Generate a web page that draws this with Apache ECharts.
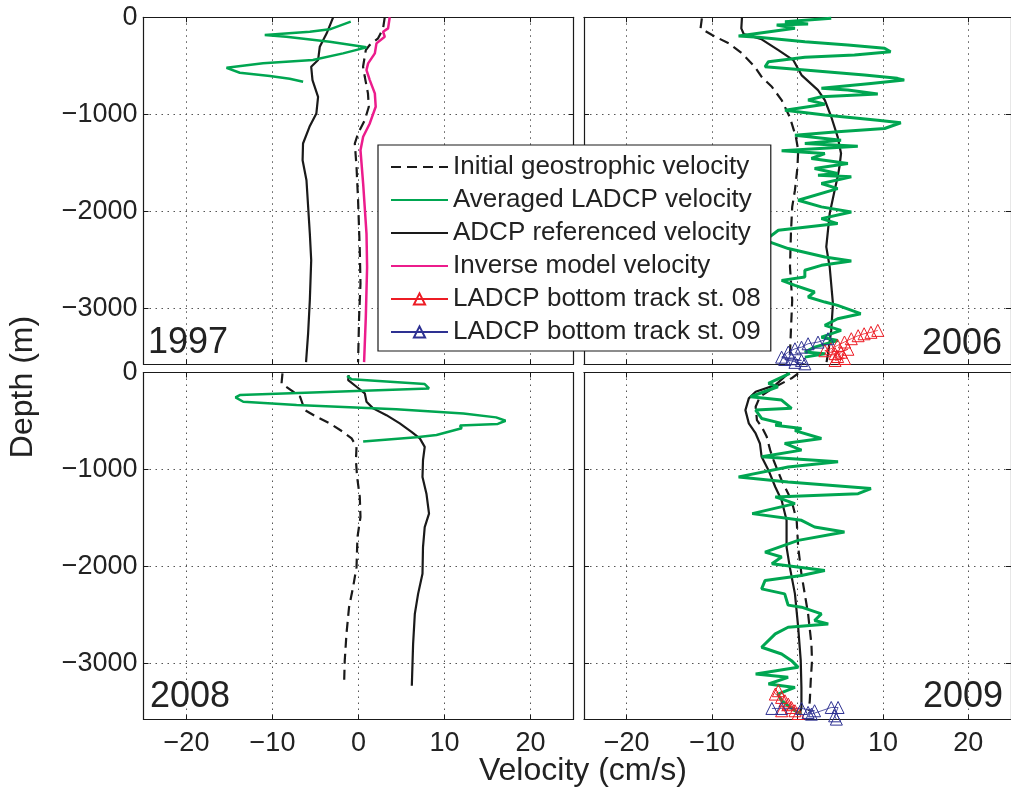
<!DOCTYPE html>
<html><head><meta charset="utf-8">
<script src="https://cdn.jsdelivr.net/npm/echarts@6/dist/echarts.min.js"></script>
<style>html,body{margin:0;padding:0;background:#fff}#c{width:1011px;height:796px}</style>
</head><body><div id="c"></div>
<script>
// ---------------- DATA ----------------
const xTickValues = [-20, -10, 0, 10, 20];
const yTickValues = [0, 1000, 2000, 3000];   // depth (m), shown as negative labels
const panelYears = ['1997', '2006', '2008', '2009'];
const nameGeo = 'Initial geostrophic velocity';
const nameLadcp = 'Averaged LADCP velocity';
const nameAdcp = 'ADCP referenced velocity';
const nameInv = 'Inverse model velocity';
const nameBt08 = 'LADCP bottom track st. 08';
const nameBt09 = 'LADCP bottom track st. 09';

// [velocity (cm/s), depth (m)]
const geo1997 = [[3.05,0],[2.86,114],[2.28,217],[1.3,286],[0.85,338],[0.53,510],[0.73,614],[1.1,785],[1.2,923],[0.73,1061],[-0.05,1198],[-0.43,1302],[-0.23,1543],[-0.05,1887],[0.15,2404],[0.23,2748],[0.07,3093],[-0.05,3558]];
const ladcp1997 = [[-0.9,45],[-3.34,124],[-5.66,149],[-10.9,183],[-8.4,200],[-3.34,252],[0.93,310],[-1.8,372],[-5.3,441],[-11.1,475],[-15.35,521],[-13.8,572],[-10.3,606],[-8.0,634],[-6.44,665]];
const adcp1997 = [[-2.95,0],[-3.7,165],[-4.5,303],[-4.7,441],[-5.5,510],[-5.35,648],[-4.7,820],[-4.9,992],[-5.7,1130],[-6.45,1302],[-6.5,1474],[-6.05,1681],[-5.66,2231],[-5.5,2507],[-5.66,2920],[-5.86,3264],[-6.1,3558]];
const inv1997 = [[3.63,0],[3.44,114],[2.86,149],[3.05,200],[2.09,269],[1.9,372],[1.12,475],[0.93,544],[1.31,648],[1.9,785],[2.0,923],[1.31,1095],[0.54,1233],[0.23,1371],[0.54,1715],[0.93,2231],[1.0,2576],[0.85,3093],[0.65,3558]];

const geo2006 = [[-11.2,10],[-11.35,114],[-10.0,183],[-8.06,269],[-6.5,372],[-5.0,510],[-4.2,614],[-3.0,717],[-1.86,854],[-0.9,1030],[-0.2,1230],[0.08,1371],[0,1543],[-0.3,1784],[-0.62,1956],[-0.77,2231],[-0.88,2576],[-0.62,2920],[-0.77,3230],[-0.88,3471]];
const ladcp2006 = [[3.95,10],[-1.47,45],[1.24,69],[-2.44,80],[-0.3,114],[-6.9,193],[-4.57,207],[0.86,252],[5.9,286],[10.2,320],[10.9,355],[6.67,389],[0.86,413],[-3.4,458],[-3.8,510],[0.86,544],[7.84,596],[11.7,630],[12.5,648],[8.6,682],[2.8,733],[5.9,751],[9.4,792],[2.8,820],[1.24,854],[3.2,896],[-1.47,958],[3.2,1009],[9.4,1061],[12.1,1088],[10.2,1147],[4.7,1182],[-0.3,1216],[5.1,1268],[0.86,1302],[7.06,1330],[-1.86,1378],[3.2,1405],[1.63,1457],[5.9,1508],[2.0,1560],[4.7,1612],[2.4,1630],[6.3,1646],[2.8,1715],[4.7,1767],[0.08,1887],[2.8,1956],[6.3,2008],[2.8,2077],[4.7,2128],[-2.24,2197],[-3.8,2301],[-1.08,2386],[3.2,2473],[6.3,2514],[2.8,2559],[0.86,2610],[0.86,2680],[-1.86,2714],[-0.3,2765],[2.0,2834],[1.24,2886],[3.2,2938],[4.7,2972],[7.4,3058],[4.7,3110],[3.2,3179],[5.1,3230],[2.8,3300],[4.7,3334],[2.0,3403],[0.86,3454],[3.2,3471],[0.86,3506]];
const adcp2006 = [[-6.5,0],[-6.58,114],[-6.3,172],[-4.2,227],[-2.24,338],[-0.5,441],[0.47,596],[2.4,751],[3.2,854],[3.95,1026],[4.7,1233],[5.1,1405],[4.9,1550],[4.7,1646],[4.35,1784],[3.77,2025],[3.37,2369],[3.77,2576],[4.15,2955],[3.95,3230],[3.57,3471],[3.4,3558]];
const bt08y2006 = [[9.4,3230],[8.6,3250],[7.8,3265],[7.1,3285],[6.3,3316],[5.5,3350],[4.7,3385],[3.9,3420],[3.2,3440],[4.4,3470],[5.9,3425],[5.1,3455],[4.7,3500],[5.5,3520],[4.4,3540]];
const bt09y2006 = [[3.57,3316],[2.4,3351],[1.24,3368],[0.47,3403],[-0.3,3420],[-1.08,3454],[-1.86,3506],[-0.7,3523],[0.47,3540],[-1.5,3530],[0.86,3575],[-0.3,3560]];

const geo2008 = [[-8.84,8],[-8.95,112],[-7.6,198],[-6.8,250],[-6.24,388],[-4.9,457],[-3.34,525],[-1.8,612],[-0.8,680],[-0.23,767],[-0.3,905],[-0.16,1078],[0.15,1284],[0.23,1491],[-0.12,1698],[-0.23,2008],[-0.63,2215],[-1.1,2422],[-1.4,2697],[-1.6,2973],[-1.67,3198]];
const ladcp2008 = [[-1.33,36],[-0.8,70],[7.7,119],[8.2,164],[-13.8,233],[-14.3,257],[-13.4,302],[-7.2,336],[4.4,380],[12.2,422],[16.0,463],[17.1,498],[16.2,531],[11.8,548],[12.0,575],[9.07,644],[6.74,668],[0.54,713]];
const adcp2008 = [[-1.13,26],[-1.2,78],[-0.23,147],[0.73,215],[0.93,302],[1.7,370],[3.25,440],[4.8,525],[6.16,612],[7.13,680],[7.7,767],[7.5,905],[7.44,1078],[7.9,1250],[8.2,1456],[7.7,1595],[7.5,1801],[7.44,2077],[6.93,2284],[6.55,2490],[6.35,2800],[6.2,3232]];

const geo2009 = [[0.08,9],[-0.7,60],[-2.6,147],[-4.4,250],[-4.9,353],[-4.75,491],[-4.2,560],[-3.6,664],[-3.2,801],[-2.8,905],[-1.86,1112],[-1.08,1250],[-0.5,1387],[-0.1,1525],[0.08,1801],[0.46,2077],[0.85,2284],[1.24,2490],[1.63,2800],[1.7,2973],[1.55,3180],[1.44,3387],[1.3,3490]];
const ladcp2009 = [[-0.89,9],[-3.4,112],[-2.3,147],[-5.5,250],[-1.86,284],[-0.7,370],[-4.9,388],[-4.2,474],[-1.86,525],[-2.6,545],[0.47,577],[-0.3,600],[2.8,681],[-1.5,732],[0.47,801],[-4.2,870],[4.75,922],[-1.1,974],[-6.9,1077],[-1.1,1129],[8.6,1198],[7.1,1250],[-2.6,1284],[-0.3,1353],[-5.3,1456],[0.47,1525],[2.0,1594],[5.5,1646],[0.08,1732],[-3.8,1853],[-1.86,1904],[-3.0,1973],[3.2,2042],[0.47,2094],[-3.8,2146],[-4.2,2232],[-1.5,2284],[-1.1,2400],[0.47,2421],[2.8,2490],[2.0,2559],[3.6,2594],[-1.1,2628],[-2.6,2697],[-4.2,2835],[-1.86,2904],[-0.7,2973],[0.08,3042],[-4.9,3111],[-1.1,3145],[-3.4,3214],[-0.3,3249],[-2.3,3318],[-1.86,3387],[-0.3,3490],[0.47,3525]];
const adcp2009 = [[-1.08,9],[-2.6,130],[-4.9,198],[-5.7,267],[-6.1,388],[-5.7,525],[-4.9,629],[-4.4,732],[-4.2,870],[-3.4,1008],[-2.6,1181],[-1.86,1318],[-1.28,1525],[-1.28,1801],[-0.9,2008],[-0.3,2284],[0.08,2628],[0.38,2973],[0.46,3249],[0.46,3456],[0.27,3525]];
const bt08y2009 = [[-2.24,3283],[-2.6,3318],[-1.86,3352],[-1.47,3387],[-1.08,3421],[-0.7,3456],[-1.86,3490],[-0.3,3490],[0.08,3518]];
const bt09y2009 = [[-3.0,3466],[-1.86,3466],[0.47,3466],[2.0,3490],[1.24,3507],[1.63,3525],[3.95,3456],[4.75,3456],[4.35,3542],[4.55,3576]];

// ---------------- STYLE / LAYOUT ----------------
const FONT = '"Liberation Sans", Arial, Helvetica, sans-serif';
const TXT = '#222';
const GREEN = '#00a651';
const MAGENTA = '#ec1c8c';
const RED = '#ed1c24';
const BLUE = '#2e3192';
const BLACK = '#1a1a1a';

const grids = [
  {left: 143.5, top: 17.3, width: 430, height: 347},
  {left: 584, top: 17.3, width: 430, height: 347},
  {left: 143.5, top: 372.5, width: 430, height: 347},
  {left: 584, top: 372.5, width: 430, height: 347}
];

const frameLine = {show: true, onZero: false, lineStyle: {color: BLACK, width: 1.2}};
const gridDots = {show: true, lineStyle: {color: '#555', width: 1, type: [1.5, 4.5]}};

const xAxes = [], yAxes = [];
grids.forEach((g, i) => {
  const showX = i >= 2, showY = i % 2 === 0;
  xAxes.push({
    gridIndex: i, type: 'value', position: 'bottom', min: -25, max: 25,
    axisLine: frameLine,
    axisTick: {show: true, inside: true, length: 5, customValues: xTickValues, lineStyle: {color: BLACK}},
    axisLabel: {show: showX, customValues: xTickValues, margin: 11, fontSize: 27, fontFamily: FONT, color: TXT,
      formatter: v => (v < 0 ? '\u2212' + Math.abs(v) : String(v))},
    splitLine: gridDots
  });
  xAxes.push({
    gridIndex: i, type: 'value', position: 'top', min: -25, max: 25,
    axisLine: frameLine,
    axisTick: {show: true, inside: true, length: 5, customValues: xTickValues, lineStyle: {color: BLACK}},
    axisLabel: {show: false, customValues: xTickValues},
    splitLine: {show: false}
  });
  yAxes.push({
    gridIndex: i, type: 'value', position: 'left', inverse: true, min: 0, max: 3580, interval: 1000,
    axisLine: frameLine,
    axisTick: {show: true, inside: true, length: 5, lineStyle: {color: BLACK}},
    axisLabel: {show: showY, margin: 6, fontSize: 27, fontFamily: FONT, color: TXT,
      formatter: v => (v % 1000 !== 0 ? '' : (v === 0 ? '0' : '\u2212' + v))},
    splitLine: gridDots
  });
  yAxes.push({
    gridIndex: i, type: 'value', position: 'right', inverse: true, min: 0, max: 3580, interval: 1000,
    axisLine: frameLine,
    axisTick: {show: true, inside: true, length: 5, lineStyle: {color: BLACK}},
    axisLabel: {show: false},
    splitLine: {show: false}
  });
});

function lineSeries(name, data, gi, color, width, type, z) {
  return {
    type: 'line', name, data, xAxisIndex: 2 * gi, yAxisIndex: 2 * gi,
    symbol: 'none', showSymbol: false, smooth: false, clip: true, z: z,
    lineStyle: {color, width, type: type || 'solid'}, itemStyle: {color},
    emphasis: {disabled: true}, animation: false
  };
}
function trackSeries(name, data, gi, color) {
  return {
    type: 'line', name, data, xAxisIndex: 2 * gi, yAxisIndex: 2 * gi,
    symbol: 'triangle', symbolSize: 12, showSymbol: true, clip: false, z: 10,
    lineStyle: {color, width: 0.8},
    itemStyle: {color: 'rgba(255,255,255,0)', borderColor: color, borderWidth: 1},
    emphasis: {disabled: true}, animation: false
  };
}
const DASH = [10, 6];
const series = [
  lineSeries(nameGeo, geo1997, 0, BLACK, 2.2, DASH, 3),
  lineSeries(nameLadcp, ladcp1997, 0, GREEN, 2.5, null, 5),
  lineSeries(nameAdcp, adcp1997, 0, BLACK, 2.2, null, 4),
  lineSeries(nameInv, inv1997, 0, MAGENTA, 2.5, null, 6),
  trackSeries(nameBt08, bt08y2006, 1, RED),
  trackSeries(nameBt09, bt09y2006, 1, BLUE),
  lineSeries(nameGeo, geo2006, 1, BLACK, 2.2, DASH, 3),
  lineSeries(nameLadcp, ladcp2006, 1, GREEN, 3, null, 5),
  lineSeries(nameAdcp, adcp2006, 1, BLACK, 2.2, null, 4),
  lineSeries(nameGeo, geo2008, 2, BLACK, 2.2, DASH, 3),
  lineSeries(nameLadcp, ladcp2008, 2, GREEN, 2.5, null, 5),
  lineSeries(nameAdcp, adcp2008, 2, BLACK, 2.2, null, 4),
  lineSeries(nameGeo, geo2009, 3, BLACK, 2.2, DASH, 3),
  lineSeries(nameAdcp, adcp2009, 3, BLACK, 2.2, null, 4),
  lineSeries(nameLadcp, ladcp2009, 3, GREEN, 3, null, 5),
  trackSeries(nameBt08, bt08y2009, 3, RED),
  trackSeries(nameBt09, bt09y2009, 3, BLUE)
];

function label(text, x, y, align, size, rot) {
  return {
    type: 'text', x, y, rotation: rot || 0, z: 20,
    style: {text, fontSize: size, fontFamily: FONT, fill: TXT, align, verticalAlign: 'middle'}
  };
}
const noSymbol = {opacity: 0};

const option = {
  animation: false,
  backgroundColor: '#fff',
  grid: grids.map(g => Object.assign({containLabel: false}, g)),
  xAxis: xAxes,
  yAxis: yAxes,
  legend: {
    show: true, orient: 'vertical', left: 378, top: 145,
    data: [
      {name: nameGeo, itemStyle: noSymbol},
      {name: nameLadcp, itemStyle: noSymbol},
      {name: nameAdcp, itemStyle: noSymbol},
      {name: nameInv, itemStyle: noSymbol},
      {name: nameBt08},
      {name: nameBt09}
    ],
    itemWidth: 57, itemHeight: 14, itemGap: 7,
    padding: [9, 10, 6, 12],
    backgroundColor: '#fff', borderColor: BLACK, borderWidth: 1.2, borderRadius: 0,
    textStyle: {fontSize: 26, fontFamily: FONT, color: TXT},
    selectedMode: false, z: 30
  },
  graphic: [
    label(panelYears[0], 148, 343.5, 'left', 36),
    label(panelYears[1], 1002, 344, 'right', 36),
    label(panelYears[2], 150, 697.5, 'left', 36),
    label(panelYears[3], 1003, 697, 'right', 36),
    label('Depth (m)', 23, 387, 'center', 32, Math.PI / 2),
    label('Velocity (cm/s)', 583, 771.5, 'center', 32)
  ],
  series
};
const chart = echarts.init(document.getElementById('c'));
chart.setOption(option);
</script>
</body></html>
